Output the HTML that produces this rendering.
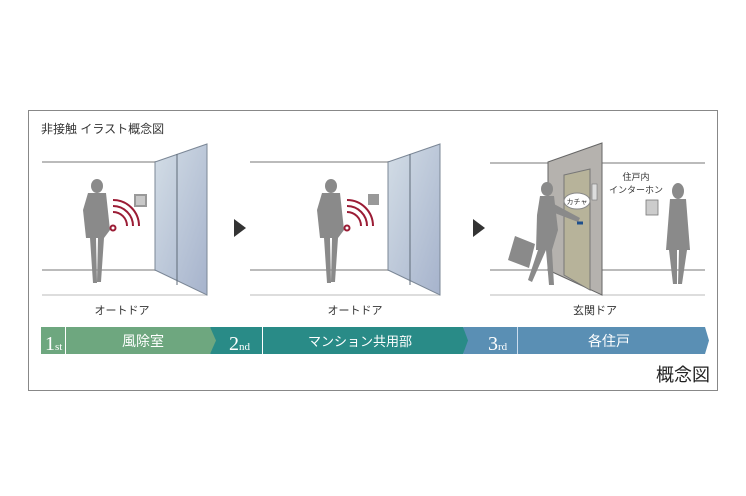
<!DOCTYPE html>
<html><head><meta charset="utf-8"><style>
body{margin:0;background:#fff;width:746px;height:496px;overflow:hidden}
svg{display:block}
text{font-family:"Liberation Sans","Noto Sans CJK JP",sans-serif}
.s{font-family:"Liberation Serif","Noto Serif CJK SC",serif}
</style></head><body>
<svg width="746" height="496" viewBox="0 0 746 496">
<defs><linearGradient id="g" x1="0" y1="0" x2="1" y2="1"><stop offset="0" stop-color="#d3dde6"/><stop offset="1" stop-color="#a6b3cc"/></linearGradient></defs>
<rect x="28.5" y="110.5" width="689" height="280" fill="#fff" stroke="#888" stroke-width="1"/>
<text x="41" y="133" font-size="12" fill="#333">非接触 イラスト概念図</text>
<g>
<line x1="42" y1="162" x2="156" y2="162" stroke="#bbb" stroke-width="2"/>
<line x1="42" y1="270" x2="156" y2="270" stroke="#bbb" stroke-width="2"/>
<line x1="42" y1="295" x2="207" y2="295" stroke="#ddd" stroke-width="2"/>
<polygon points="155,162 207,144 207,295 155,270" fill="url(#g)" stroke="#7b8796"/>
<line x1="177" y1="154" x2="177" y2="285" stroke="#5f6b78"/>
<rect x="134" y="194" width="13" height="13" fill="#999"/><rect x="136" y="196" width="9" height="9" fill="#c8c8c8"/>
<g fill="#8a8a8a">
<ellipse cx="97" cy="186" rx="6" ry="7"/>
<path d="M88 193 L106 193 L110 230 L104 238 L86 238 L83 210 Z"/>
<path d="M90 238 L96 238 L97 283 L93 283 Z M98 238 L104 238 L101 282 L97 282 Z"/>
</g>
<g fill="none" stroke="#9b1c35" stroke-width="2">
<path d="M113 212 a14 14 0 0 1 14 14"/><path d="M113 206 a20 20 0 0 1 20 20"/><path d="M113 200 a26 26 0 0 1 26 26"/>
<circle cx="113" cy="228" r="2.5"/></g>
<text x="122" y="314" font-size="11" fill="#333" text-anchor="middle">オートドア</text>
</g>
<polygon points="234,219 246,228 234,237" fill="#333"/>
<g>
<line x1="250" y1="162" x2="390" y2="162" stroke="#bbb" stroke-width="2"/>
<line x1="250" y1="270" x2="390" y2="270" stroke="#bbb" stroke-width="2"/>
<line x1="250" y1="295" x2="440" y2="295" stroke="#ddd" stroke-width="2"/>
<polygon points="388,162 440,144 440,295 388,270" fill="url(#g)" stroke="#7b8796"/>
<line x1="410" y1="154" x2="410" y2="285" stroke="#5f6b78"/>
<rect x="368" y="194" width="11" height="11" fill="#999"/>
<g fill="#8a8a8a">
<ellipse cx="331" cy="186" rx="6" ry="7"/>
<path d="M322 193 L340 193 L344 230 L338 238 L320 238 L317 210 Z"/>
<path d="M324 238 L330 238 L331 283 L327 283 Z M332 238 L338 238 L335 282 L331 282 Z"/>
</g>
<g fill="none" stroke="#9b1c35" stroke-width="2">
<path d="M347 212 a14 14 0 0 1 14 14"/><path d="M347 206 a20 20 0 0 1 20 20"/><path d="M347 200 a26 26 0 0 1 26 26"/>
<circle cx="347" cy="228" r="2.5"/></g>
<text x="355" y="314" font-size="11" fill="#333" text-anchor="middle">オートドア</text>
</g>
<polygon points="473,219 485,228 473,237" fill="#333"/>
<g>
<line x1="490" y1="163" x2="705" y2="163" stroke="#bbb" stroke-width="2"/>
<line x1="490" y1="270" x2="705" y2="270" stroke="#bbb" stroke-width="2"/>
<line x1="490" y1="295" x2="705" y2="295" stroke="#ddd" stroke-width="2"/>
<polygon points="548,162 602,143 602,295 548,270" fill="#b5b2ae" stroke="#666"/>
<polygon points="564,175 590,169 590,290 564,275" fill="#b7b39a" stroke="#777"/>
<rect x="592" y="184" width="5" height="16" fill="#ddd" stroke="#777" stroke-width=".6"/>
<rect x="646" y="200" width="12" height="15" fill="#ccc" stroke="#777" stroke-width=".8"/>
<text x="636" y="180" font-size="9" fill="#333" text-anchor="middle">住戸内</text>
<text x="636" y="193" font-size="9" fill="#333" text-anchor="middle">インターホン</text>
<g fill="#8a8a8a">
<ellipse cx="547" cy="189" rx="6" ry="7"/>
<path d="M540 196 L554 196 L558 230 L552 250 L536 250 L537 215 Z"/>
<path d="M554 204 L580 218 L578 222 L552 212 Z"/>
<path d="M538 250 L546 250 L532 282 L528 280 Z M546 250 L552 250 L554 285 L549 285 Z"/>
<polygon points="515,236 535,244 529,268 508,260"/>
<ellipse cx="678" cy="191" rx="6" ry="8"/>
<path d="M670 199 L686 199 L690 250 L666 250 Z"/>
<path d="M669 250 L677 250 L677 284 L673 284 Z M679 250 L687 250 L682 284 L678 284 Z"/>
</g>
<path d="M577 223 h6" stroke="#1e4f8c" stroke-width="3"/>
<ellipse cx="577" cy="201" rx="13" ry="8" fill="#fff" stroke="#888"/>
<text x="577" y="204" font-size="7" fill="#333" text-anchor="middle">カチャ</text>
<text x="595" y="314" font-size="11" fill="#333" text-anchor="middle">玄関ドア</text>
</g>
<polygon points="463,327 705,327 709,340.5 705,354 463,354 467,340.5" fill="#5a8fb4"/>
<polygon points="210,327 463,327 468,340.5 463,354 210,354 214,340.5" fill="#298b87"/>
<polygon points="41,327 210,327 216,340.5 210,354 41,354" fill="#6ea77f"/>
<line x1="65.5" y1="327" x2="65.5" y2="354" stroke="#fff"/>
<line x1="262.5" y1="327" x2="262.5" y2="354" stroke="#fff"/>
<line x1="517.5" y1="327" x2="517.5" y2="354" stroke="#cde"/>
<g fill="#fff">
<text class="s" x="45" y="350" font-size="20">1<tspan font-size="11">st</tspan></text>
<text x="143" y="346" font-size="14" text-anchor="middle">風除室</text>
<text class="s" x="229" y="350" font-size="20">2<tspan font-size="11">nd</tspan></text>
<text x="360" y="346" font-size="13" text-anchor="middle">マンション共用部</text>
<text class="s" x="488" y="350" font-size="20">3<tspan font-size="11">rd</tspan></text>
<text x="609" y="346" font-size="14" text-anchor="middle">各住戸</text>
</g>
<text x="710" y="381" font-size="18" fill="#222" text-anchor="end">概念図</text>
</svg>
</body></html>
